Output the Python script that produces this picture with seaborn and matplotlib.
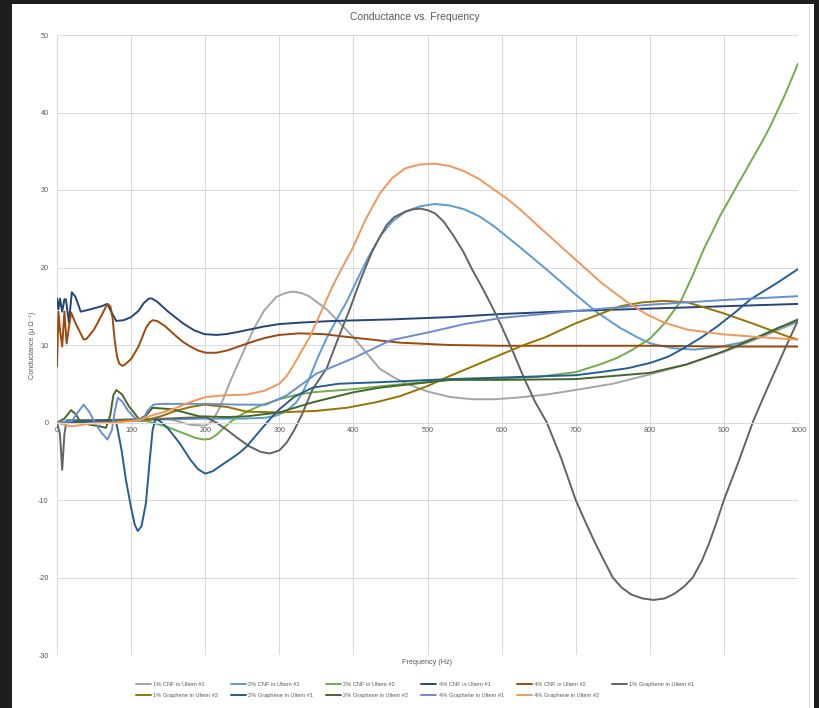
import numpy as np
import pandas as pd
import seaborn as sns
import matplotlib.pyplot as plt
from matplotlib.patches import Rectangle
from matplotlib.lines import Line2D

# Данные (частота в Гц, проводимость)
f_cnf1_1 = [0, 20, 50, 80, 100, 120, 150, 180, 200, 210, 220, 235, 250, 265, 280, 296, 308, 318, 330, 340,
            364, 380, 399, 420, 436, 455, 472, 500, 530, 560, 590, 620, 660, 700, 750, 800, 850, 900, 950, 1000]
g_cnf1_1 = [0, 0.2, 0.3, 0.3, 0.3, 0.5, 0.5, -0.3, -0.4, 0.2, 2.0, 5.6, 8.8, 12.0, 14.5, 16.2, 16.7, 16.9, 16.7, 16.3,
            14.6, 13.0, 11.1, 8.7, 6.9, 5.8, 5.0, 4.0, 3.3, 3.0, 3.0, 3.2, 3.6, 4.2, 5.0, 6.2, 7.5, 9.1, 11.0, 13.0]

f_cnf2_1 = [0, 50, 100, 150, 200, 250, 280, 296, 310, 323, 332, 341, 352, 364, 378, 391, 405, 420, 436, 452,
            470, 490, 510, 530, 550, 570, 590, 625, 660, 700, 729, 760, 783, 801, 830, 860, 890, 923, 950, 975, 1000]
g_cnf2_1 = [0, 0.2, 0.3, 0.4, 0.5, 0.5, 0.6, 0.9, 1.5, 2.6, 4.0, 5.8, 8.4, 10.9, 13.4, 15.6, 18.4, 21.3, 24.0, 25.9,
            27.2, 27.9, 28.2, 28.0, 27.5, 26.6, 25.3, 22.6, 19.8, 16.5, 14.2, 12.2, 11.0, 10.2, 9.6, 9.4, 9.7, 10.3, 11.2, 12.3, 13.0]

f_cnf2_2 = [0, 50, 100, 120, 147, 160, 174, 187, 199, 207, 215, 224, 233, 245, 256, 275, 300, 320, 345, 400, 450,
            530, 600, 650, 700, 733, 755, 775, 800, 820, 842, 858, 873, 885, 895, 907, 918, 930, 940, 952, 963, 982, 1000]
g_cnf2_2 = [0, 0.2, 0.3, 0.2, -0.5, -1.0, -1.5, -2.0, -2.2, -2.1, -1.6, -0.8, 0, 0.8, 1.4, 2.2, 3.0, 3.5, 3.9, 4.3, 4.8,
            5.5, 5.7, 5.9, 6.5, 7.5, 8.3, 9.3, 10.8, 12.8, 15.7, 19.0, 22.4, 24.7, 26.7, 28.7, 30.6, 32.6, 34.3, 36.3, 38.3, 42.2, 46.3]

f_cnf4_1 = [0, 2, 4, 7, 10, 12, 16, 20, 25, 32, 45, 60, 68, 72, 80, 90, 100, 110, 117, 124, 128, 135, 150, 170, 185,
            199, 215, 228, 245, 260, 280, 300, 330, 372, 450, 530, 600, 700, 800, 900, 1000]
g_cnf4_1 = [16.0, 14.6, 16.0, 14.3, 15.9, 15.9, 12.9, 16.8, 16.2, 14.3, 14.6, 15.0, 15.3, 14.5, 13.1, 13.2, 13.6, 14.4, 15.4, 16.0, 16.0, 15.6, 14.3, 12.8, 11.9,
            11.4, 11.3, 11.4, 11.7, 12.0, 12.4, 12.7, 12.9, 13.1, 13.3, 13.6, 14.0, 14.4, 14.7, 15.0, 15.3]

f_cnf4_2 = [0, 2, 4, 7, 10, 13, 19, 25, 36, 40, 50, 60, 68, 72, 75, 78, 81, 84, 88, 92, 100, 110, 120, 125, 129, 135,
            145, 160, 170, 180, 190, 201, 215, 230, 245, 260, 280, 300, 327, 360, 395, 463, 530, 600, 700, 800, 900, 1000]
g_cnf4_2 = [7.2, 14.3, 12.0, 9.8, 14.3, 10.2, 14.2, 12.8, 10.7, 10.8, 12.0, 13.8, 15.3, 15.0, 13.5, 10.5, 8.5, 7.6, 7.3, 7.5, 8.2, 9.8, 12.2, 12.9, 13.2, 13.1,
            12.5, 11.2, 10.4, 9.8, 9.3, 9.0, 9.0, 9.3, 9.8, 10.3, 10.9, 11.3, 11.5, 11.4, 11.0, 10.3, 10.0, 9.9, 9.9, 9.9, 9.8, 9.8]

f_gr1_1 = [0, 4, 7, 10, 13, 30, 60, 100, 130, 170, 200, 215, 230, 245, 260, 275, 287, 300, 310, 320, 330, 345, 364,
           380, 395, 410, 425, 436, 445, 455, 470, 480, 490, 500, 510, 522, 535, 548, 560, 575, 589, 600, 615, 630,
           645, 661, 680, 700, 712, 725, 737, 750, 762, 775, 790, 805, 820, 833, 846, 858, 870, 880, 890, 900, 920,
           940, 960, 980, 1000]
g_gr1_1 = [0, -1.5, -6.1, -1.5, 0.3, 0.3, 0.3, 0.4, 0.4, 0.6, 0.7, 0.0, -1.0, -2.1, -3.1, -3.8, -4.0, -3.6, -2.6, -1.0, 0.9, 4.3, 7.0,
           11.0, 14.6, 18.5, 22.0, 24.0, 25.5, 26.5, 27.2, 27.5, 27.6, 27.4, 27.0, 25.9, 24.1, 22.1, 19.8, 17.2, 14.6, 12.4, 9.2, 5.8,
           2.7, 0.0, -4.5, -10.0, -12.6, -15.3, -17.6, -20.0, -21.3, -22.2, -22.7, -22.9, -22.7, -22.1, -21.2, -20.0, -17.9, -15.6, -12.9, -10.0, -5.0,
           0.3, 4.7, 9.0, 13.2]

f_gr1_2 = [0, 50, 100, 120, 140, 160, 180, 199, 230, 256, 300, 350, 391, 430, 463, 500, 530, 570, 600, 630, 659, 700,
           760, 790, 819, 851, 896, 941, 986, 1000]
g_gr1_2 = [0, 0.1, 0.2, 0.3, 0.8, 1.5, 2.0, 2.3, 2.0, 1.4, 1.3, 1.5, 1.9, 2.6, 3.4, 4.7, 6.0, 7.6, 8.8, 10.0, 11.0, 12.8,
           15.0, 15.5, 15.7, 15.5, 14.2, 12.7, 11.1, 10.7]

f_gr2_1 = [0, 50, 70, 80, 87, 93, 100, 105, 109, 114, 120, 125, 129, 133, 140, 150, 165, 180, 190, 200, 210, 222, 233,
           245, 256, 270, 287, 300, 320, 345, 380, 436, 530, 600, 700, 733, 770, 801, 825, 846, 870, 891, 915, 936, 970, 1000]
g_gr2_1 = [0, 0.2, 0.3, 0, -3.5, -7.4, -11.0, -13.2, -14.0, -13.4, -10.4, -5.0, -1.0, 0.5, 0.1, -0.8, -2.6, -4.8, -6.0, -6.6, -6.3, -5.5, -4.8,
           -4.0, -3.1, -1.5, 0.4, 1.7, 3.3, 4.5, 5.0, 5.2, 5.6, 5.8, 6.1, 6.5, 7.0, 7.7, 8.5, 9.6, 11.0, 12.4, 14.2, 15.9, 17.9, 19.8]

f_gr2_2 = [0, 10, 19, 26, 32, 45, 58, 66, 72, 76, 80, 88, 97, 111, 120, 129, 156, 192, 230, 256, 300, 345, 400, 436,
           530, 600, 700, 800, 850, 900, 950, 1000]
g_gr2_2 = [0, 0.5, 1.6, 1.0, 0, -0.3, -0.5, -0.7, 1.0, 3.5, 4.2, 3.6, 2.1, 0.4, 0.9, 1.9, 1.7, 0.8, 0.7, 0.8, 1.3, 2.6, 3.9, 4.5,
           5.5, 5.5, 5.6, 6.4, 7.5, 9.2, 11.2, 13.3]

f_gr4_1 = [0, 20, 28, 36, 44, 52, 60, 68, 74, 78, 82, 88, 96, 105, 115, 122, 130, 140, 200, 250, 282, 310, 350, 400,
           450, 500, 550, 600, 700, 800, 900, 1000]
g_gr4_1 = [0, 0.2, 1.3, 2.3, 1.3, -0.2, -1.3, -2.2, -1.0, 1.5, 3.2, 2.7, 1.5, 0.6, 0.2, 1.5, 2.3, 2.4, 2.4, 2.3, 2.3, 3.5, 6.3, 8.3,
           10.6, 11.6, 12.7, 13.5, 14.4, 15.2, 15.8, 16.3]

f_gr4_2 = [0, 10, 20, 40, 80, 110, 124, 156, 179, 201, 225, 256, 280, 300, 310, 320, 330, 341, 356, 372, 385, 398, 417,
           436, 452, 470, 490, 510, 530, 550, 570, 589, 607, 625, 650, 679, 700, 735, 770, 795, 819, 850, 896, 950, 1000]
g_gr4_2 = [0, -0.3, -0.5, -0.2, 0, 0.3, 0.8, 1.7, 2.6, 3.3, 3.5, 3.6, 4.1, 5.0, 6.0, 7.5, 9.2, 11.0, 14.2, 17.6, 20.0, 22.3, 26.3,
           29.6, 31.5, 32.8, 33.3, 33.4, 33.1, 32.4, 31.4, 30.1, 28.9, 27.5, 25.3, 22.8, 21.0, 18.0, 15.5, 14.0, 12.9, 12.0, 11.4, 11.0, 10.7]

labels = ['1% CNF in Ultem #1', '2% CNF in Ultem #1', '2% CNF in Ultem #2', '4% CNF in Ultem #1',
          '4% CNF in Ultem #2', '1% Graphene in Ultem #1', '1% Graphene in Ultem #2',
          '2% Graphene in Ultem #1', '2% Graphene in Ultem #2', '4% Graphene in Ultem #1',
          '4% Graphene in Ultem #2']
colors = ['#A5A5A5', '#5B9BD5', '#70AD47', '#264478', '#9E480E', '#636363', '#997300',
          '#255E91', '#43682B', '#698ED0', '#F1975A']
series = [(f_cnf1_1, g_cnf1_1), (f_cnf2_1, g_cnf2_1), (f_cnf2_2, g_cnf2_2), (f_cnf4_1, g_cnf4_1),
          (f_cnf4_2, g_cnf4_2), (f_gr1_1, g_gr1_1), (f_gr1_2, g_gr1_2), (f_gr2_1, g_gr2_1),
          (f_gr2_2, g_gr2_2), (f_gr4_1, g_gr4_1), (f_gr4_2, g_gr4_2)]

sns.set_style('white')
plt.rcParams['font.family'] = ['Liberation Sans', 'DejaVu Sans']
plt.rcParams['axes.unicode_minus'] = False
grey_txt = '#595959'

fig = plt.figure(figsize=(8.19, 7.08), dpi=100, facecolor='#1e1e1e')
fig.add_artist(Rectangle((12 / 819, 0), (814 - 12) / 819, 1 - 4 / 708, transform=fig.transFigure,
                         facecolor='white', edgecolor='none', zorder=-10))
fig.add_artist(Line2D([809 / 819, 809 / 819], [0, 1 - 5 / 708], transform=fig.transFigure,
                      color='#d9d9d9', lw=0.8))

ax = fig.add_axes([57 / 819, 1 - 655 / 708, 741 / 819, 620 / 708])

handles = []
for (fx, gy), lab, col in zip(series, labels, colors):
    df = pd.DataFrame({'freq': fx, 'cond': gy})
    sns.lineplot(data=df, x='freq', y='cond', ax=ax, color=col, linewidth=1.4,
                 sort=False, estimator=None, legend=False)
    handles.append(Line2D([], [], color=col, lw=1.4))

ax.set_xlim(0, 1000)
ax.set_ylim(-30, 50)
ax.set_xticks(np.arange(0, 1001, 100))
ax.set_yticks(np.arange(-30, 51, 10))
ax.grid(True, color='#d9d9d9', lw=0.7)
ax.set_axisbelow(True)
for s in ['top', 'right', 'left']:
    ax.spines[s].set_visible(False)
ax.spines['bottom'].set_position(('data', 0))
ax.spines['bottom'].set_color('#d9d9d9')
ax.spines['bottom'].set_linewidth(0.7)
ax.tick_params(axis='both', length=0, labelsize=5.2, colors=grey_txt)
ax.tick_params(axis='x', pad=3)
ax.tick_params(axis='y', pad=6)

ax.set_xlabel('Frequency (Hz)', fontsize=5.2, color=grey_txt)
ax.xaxis.label.set_va('center')
ax.xaxis.set_label_coords(0.5, -7 / 620)
ax.set_ylabel('Conductance (μ Ω⁻¹)', fontsize=5.2, color=grey_txt)
ax.yaxis.label.set_va('center')
ax.yaxis.set_label_coords((33 - 57) / 741, 0.5)

fig.text(415 / 819, 1 - 17 / 708, 'Conductance vs. Frequency', ha='center', va='center',
         fontsize=7.5, color=grey_txt)

# легенда по строкам, как в Excel (matplotlib заполняет по столбцам)
order = []
for k in range(6):
    order.append(k)
    if k + 6 < len(labels):
        order.append(k + 6)
fig.legend([handles[i] for i in order], [labels[i] for i in order], ncol=6, loc='center',
           bbox_to_anchor=(415 / 819, 1 - 690 / 708), frameon=False, fontsize=4.1,
           handlelength=2.6, handletextpad=0.4, columnspacing=2.3, labelspacing=1.1,
           labelcolor=grey_txt)

plt.savefig('out.png', dpi=100, facecolor=fig.get_facecolor())
